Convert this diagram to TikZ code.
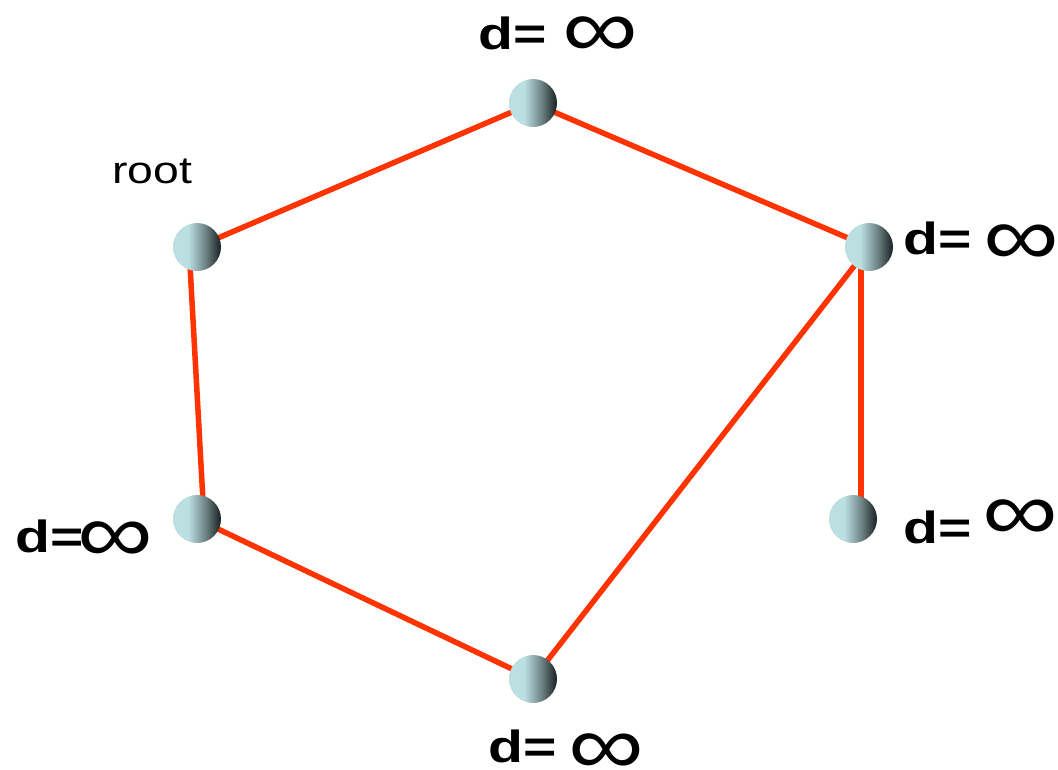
\documentclass[tikz,border=0pt]{standalone}
\usepackage{fontspec}
\usetikzlibrary{backgrounds}
\setmainfont{Liberation Sans}
\newfontfamily\labfont[FakeStretch=1.27]{Liberation Sans}
\newfontfamily\rootfont[FakeStretch=1.22]{Liberation Sans}
\newfontfamily\inffont[FakeStretch=1.25]{Liberation Sans}
\definecolor{edgered}{HTML}{FF3300}
\definecolor{balllight}{HTML}{BCDFE2}
\definecolor{ballmid}{HTML}{718789}
\definecolor{balldark}{HTML}{1A2020}
\pgfdeclarehorizontalshading{ballshade}{100bp}{color(0bp)=(balllight); color(25bp)=(balllight); color(41bp)=(balllight); color(58bp)=(ballmid); color(75bp)=(balldark); color(100bp)=(balldark)}
\begin{document}
\begin{tikzpicture}[x=1pt,y=-1pt,
  ball/.style={circle,minimum size=48pt,inner sep=0pt,shading=ballshade},
  edge/.style={draw=edgered,line width=5.5pt},
  dlab/.style={anchor=base west,inner sep=0pt,font=\labfont\bfseries\fontsize{45}{45}\selectfont},
  inflab/.style={anchor=center,inner sep=0pt,font=\inffont\fontsize{85}{85}\selectfont},
  rootlab/.style={anchor=base west,inner sep=0pt,font=\rootfont\fontsize{38}{38}\selectfont}]
\useasboundingbox (0,0) rectangle (1058,769);
\node[ball] (top) at (533,103) {};
\node[ball] (root) at (197,247) {};
\node[ball] (right) at (869,247) {};
\node[ball] (bl) at (197,519) {};
\node[ball] (rb) at (853,519) {};
\node[ball] (bot) at (533,679) {};
\begin{scope}[on background layer]
\draw[edge] (root.center) -- (top.center);
\draw[edge] (top.center) -- (right.center);
\draw[edge] ([xshift=-8pt]root.center) -- ([xshift=7pt]bl.center);
\draw[edge] (bl.center) -- (bot.center);
\draw[edge] (bot.center) -- (right.center);
\draw[edge] ([xshift=-8pt]right.center) -- ([xshift=8pt]rb.center);
\end{scope}
\node[rootlab] (rootT) at (112,183) {root};
\node[dlab] (topD) at (478,49) {d=};
\node[inflab] (topI) at (600,37) {∞};
\node[dlab] (rightD) at (903,254) {d=};
\node[inflab] (rightI) at (1021,245) {∞};
\node[dlab] (blD) at (15,552) {d=};
\node[inflab] (blI) at (115,542) {∞};
\node[dlab] (rbD) at (903,543) {d=};
\node[inflab] (rbI) at (1020,520) {∞};
\node[dlab] (botD) at (488,762) {d=};
\node[inflab] (botI) at (606,754) {∞};
\end{tikzpicture}
\end{document}
